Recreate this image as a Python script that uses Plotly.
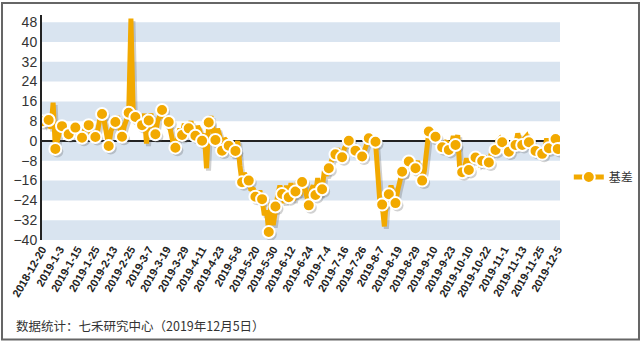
import plotly.graph_objects as go

# ---------------- data ----------------
tick_labels = ["2018-12-20", "2019-1-3", "2019-1-15", "2019-1-25", "2019-2-13", "2019-2-25",
               "2019-3-7", "2019-3-19", "2019-3-29", "2019-4-11", "2019-4-23", "2019-5-8",
               "2019-5-20", "2019-5-30", "2019-6-12", "2019-6-24", "2019-7-4", "2019-7-16",
               "2019-7-26", "2019-8-7", "2019-8-19", "2019-8-29", "2019-9-10", "2019-9-23",
               "2019-10-10", "2019-10-22", "2019-11-1", "2019-11-13", "2019-11-25", "2019-12-5"]

basis = [
    8, 7, 9,   8.5, 5, 15.5,   -3.2, 1, 4,   6, 3, 5,   2.7, 6, 4,
    5.4, 3, 2,   1.3, 4, 5,   6.4, 3, 2,   1.6, 4, 9,   10.9, 8, 3,
    -2, 4, 6,   7.7, 10, 5,   1.7, 6, 9,   11.4, 49.5, 12,   9.7, 8, 10,
    6.4, 11, -1,   8.3, 11, 6,   2.7, 8, 10,   12.5, 9, 7,   7.7, 3, -1,
    -2.7, 2, 5,   2.4, 7, 4,   5.1, 8, 3,   2.1, 6, 4,   0.1, 3, -11,
    7.5, 10, 4,   0.4, 5, 2,   -3.9, 1, 0,   -1.9, -3, -6,   -4, 0, -10,
    -16.7, -13, -15,   -16, -20, -19,   -22.5, -24, -20,   -23.5, -30, -28,   -36.8, -25, -34,
    -26.5, -22, -18,   -21.4, -25, -18,   -22.7, -17, -24,   -20.4, -16, -22,   -16.6, -18, -23,
    -26, -20, -18,   -21.8, -15, -22,   -19.5, -12, -14,   -11, -8, -6,   -5.4, -3, -7,
    -6.6, -3, -1,   0.1, -1, -3,   -3.9, -2, -5,   -6.3, -4, -1,   1.1, 2, 0,
    -0.3, -10, -25,   -25.7, -34.5, -22,   -21.5, -18, -22,   -25.1, -20, -15,   -12.4, -14, -9,
    -8.3, -7, -10,   -11, -8, -14,   -16, -12, -4,   3.8, 2, 0,   1.7, 0, -1,
    -2.5, -1, 0,   -3.6, -2, 2,   -1.6, 2.4, -13,   -12.6, -11, -7,   -11.7, -8, -5,
    -6.7, -6, -9,   -8.1, -6, -9,   -8.7, -5, -2,   -3.6, 0, 1,   -0.5, -2, -3,
    -4.3, -2, 0,   -1.6, 3, 0,   -1.6, 1, 2,   -0.5, -2, -3,   -4, -5, -3,
    -5.2, -4, 1,   -2.9, 0, 1,   0.8, -3.2,
]

y_ticks = [48, 40, 32, 24, 16, 8, 0, -8, -16, -24, -32, -40]
series_name = "基差"
footer = "数据统计：七禾研究中心（2019年12月5日）"

# ---------------- styling ----------------
ORANGE = "#F2A900"
BAND = "#D9E4F0"
TICK_STEP = 8
MARK_STEP = 3

idx = list(range(len(basis)))
mk_x = idx[::MARK_STEP] + [idx[-1]]
mk_y = basis[::MARK_STEP] + [basis[-1]]

fig = go.Figure()

# drop shadow (offset copy of the series)
sh_dx, sh_dy = 0.9, -1.0
fig.add_trace(go.Scatter(x=[i + sh_dx for i in idx], y=[v + sh_dy for v in basis], mode="lines",
                         line=dict(color="rgba(90,90,90,0.28)", width=5), hoverinfo="skip",
                         showlegend=False))
fig.add_trace(go.Scatter(x=[i + sh_dx for i in mk_x], y=[v + sh_dy for v in mk_y], mode="markers",
                         marker=dict(color="rgba(90,90,90,0.28)", size=12, line=dict(width=0)),
                         hoverinfo="skip", showlegend=False))

# main line
fig.add_trace(go.Scatter(x=idx, y=basis, mode="lines", line=dict(color=ORANGE, width=5),
                         showlegend=False))
# markers on every 3rd point
fig.add_trace(go.Scatter(x=mk_x, y=mk_y, mode="markers",
                         marker=dict(color=ORANGE, size=12, line=dict(color="white", width=2)),
                         showlegend=False))
# legend entry
fig.add_trace(go.Scatter(x=[None], y=[None], mode="lines+markers", name=series_name,
                         line=dict(color=ORANGE, width=5),
                         marker=dict(color=ORANGE, size=12, line=dict(color="white", width=2))))

# alternating horizontal bands
shapes = []
for k in range(len(y_ticks) - 1):
    top, bot = y_ticks[k], y_ticks[k + 1]
    if k % 2 == 0:
        shapes.append(dict(type="rect", xref="x domain", yref="y", x0=0, x1=1, y0=bot, y1=top,
                           fillcolor=BAND, line=dict(width=0), layer="below"))
# outer frame
shapes.append(dict(type="rect", xref="paper", yref="paper", x0=-0.0772, x1=1.1525,
                   y0=-0.4423, y1=1.0533, line=dict(color="#666666", width=2), layer="above"))

fig.update_layout(
    width=642, height=343,
    margin=dict(l=42, r=82, t=15, b=103, autoexpand=False),
    paper_bgcolor="white", plot_bgcolor="white",
    shapes=shapes,
    showlegend=True,
    legend=dict(x=1.017, y=0.28, xanchor="left", yanchor="middle",
                font=dict(family="Noto Sans CJK SC", size=12, color="#333333"),
                bgcolor="rgba(0,0,0,0)", borderwidth=0),
    xaxis=dict(range=[0, len(basis)], tickmode="array",
               tickvals=list(range(0, len(basis), TICK_STEP)), ticktext=tick_labels,
               tickangle=-60, showgrid=False, zeroline=False, showline=False, ticks="",
               tickfont=dict(family="Liberation Sans", size=11, color="#222222", weight="bold")),
    yaxis=dict(range=[-40, 50.9], tickmode="array", tickvals=y_ticks,
               showgrid=False, zeroline=True, zerolinecolor="#222222", zerolinewidth=2,
               showline=True, linecolor="#222222", linewidth=2, ticks="",
               tickfont=dict(family="Liberation Sans", size=14, color="#333333")),
    annotations=[dict(text=footer, xref="paper", yref="paper", x=-0.054, y=-0.38,
                      xanchor="left", yanchor="middle", showarrow=False,
                      font=dict(family="Noto Sans CJK SC", size=12.5, color="#333333"))],
)

fig.write_html("out.html")
